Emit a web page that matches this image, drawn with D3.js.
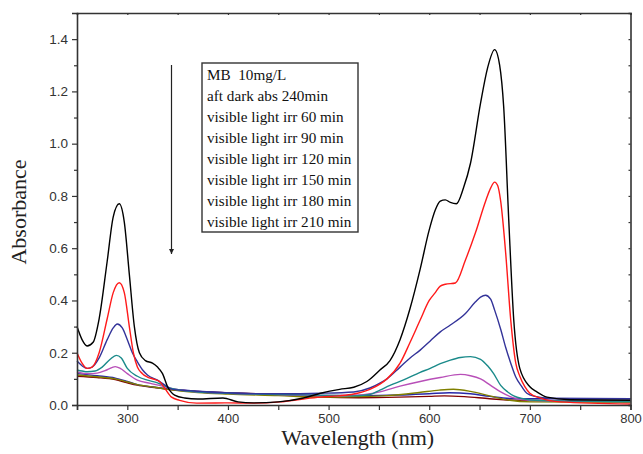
<!DOCTYPE html>
<html>
<head>
<meta charset="utf-8">
<script src="https://cdn.jsdelivr.net/npm/d3@7"></script>
<style>
  body { margin: 0; background: #fff; }
  svg { display: block; }
</style>
</head>
<body>
<div id="chart"></div>
<script>
// Spektren [Wellenlänge nm, Absorbanz]
const mb10 = [[250,0.30],[255,0.25],[260,0.226],[266,0.24],[272,0.33],[280,0.55],[286,0.72],[292,0.77],[297,0.70],[302,0.50],[307,0.30],[312,0.20],[318,0.17],[325,0.16],[330,0.145],[335,0.12],[340,0.07],[347,0.038],[357,0.027],[370,0.023],[395,0.027],[410,0.012],[425,0.008],[450,0.012],[475,0.027],[492,0.045],[511,0.06],[525,0.068],[538,0.09],[551,0.134],[561,0.17],[571,0.25],[581,0.37],[591,0.52],[600,0.67],[606,0.746],[611,0.78],[616,0.785],[621,0.775],[627,0.77],[634,0.83],[641,0.925],[651,1.155],[658,1.29],[665,1.36],[670,1.30],[674,1.14],[679,0.71],[684,0.325],[690,0.14],[700,0.07],[707,0.05],[717,0.03],[740,0.02],[800,0.018]];
const dark240 = [[250,0.20],[255,0.16],[260,0.14],[265,0.145],[272,0.20],[280,0.33],[286,0.43],[292,0.468],[297,0.43],[302,0.30],[306,0.20],[310,0.145],[315,0.12],[320,0.107],[327,0.098],[332,0.09],[337,0.065],[344,0.03],[352,0.018],[369,0.007],[400,0.008],[425,0.007],[452,0.012],[475,0.023],[492,0.03],[510,0.035],[525,0.042],[541,0.06],[551,0.08],[558,0.1],[571,0.16],[581,0.24],[591,0.325],[600,0.40],[606,0.43],[611,0.455],[616,0.462],[626,0.467],[636,0.555],[646,0.66],[656,0.78],[661,0.83],[665,0.853],[668,0.84],[671,0.78],[676,0.58],[681,0.325],[686,0.16],[690,0.11],[695,0.07],[700,0.045],[710,0.027],[730,0.012],[800,0.004]];
const irr60 = [[250,0.168],[255,0.15],[260,0.14],[265,0.145],[272,0.18],[280,0.25],[286,0.295],[290,0.31],[295,0.295],[300,0.25],[305,0.20],[310,0.165],[315,0.135],[320,0.115],[330,0.095],[337,0.077],[345,0.06],[360,0.055],[380,0.05],[409,0.045],[450,0.043],[492,0.045],[525,0.05],[541,0.065],[551,0.084],[558,0.1],[571,0.145],[581,0.18],[591,0.21],[601,0.245],[611,0.28],[621,0.306],[636,0.35],[646,0.395],[651,0.413],[656,0.42],[661,0.405],[665,0.363],[671,0.29],[676,0.22],[681,0.16],[686,0.107],[692,0.07],[697,0.045],[705,0.033],[720,0.026],[800,0.024]];
const irr90 = [[250,0.134],[255,0.13],[260,0.127],[268,0.13],[275,0.145],[283,0.175],[289,0.19],[294,0.18],[300,0.14],[310,0.11],[320,0.095],[330,0.085],[337,0.073],[345,0.062],[370,0.05],[400,0.045],[450,0.04],[500,0.037],[525,0.035],[541,0.04],[551,0.057],[561,0.075],[574,0.095],[591,0.125],[601,0.14],[611,0.158],[621,0.172],[631,0.182],[641,0.185],[651,0.175],[658,0.15],[664,0.12],[671,0.075],[678,0.05],[684,0.035],[692,0.025],[710,0.017],[800,0.013]];
const irr120 = [[250,0.127],[260,0.12],[270,0.122],[280,0.135],[288,0.147],[293,0.14],[300,0.12],[310,0.095],[323,0.083],[335,0.072],[345,0.062],[370,0.05],[400,0.045],[450,0.04],[500,0.035],[530,0.038],[551,0.05],[571,0.072],[591,0.09],[611,0.105],[631,0.117],[641,0.112],[651,0.1],[661,0.075],[671,0.05],[684,0.027],[700,0.018],[800,0.013]];
const irr150 = [[250,0.115],[270,0.108],[288,0.1],[300,0.088],[310,0.078],[327,0.068],[340,0.06],[370,0.048],[400,0.042],[450,0.036],[492,0.03],[530,0.032],[558,0.036],[590,0.048],[610,0.057],[624,0.06],[641,0.052],[660,0.035],[680,0.018],[700,0.012],[800,0.01]];
const irr180 = [[250,0.12],[270,0.112],[288,0.103],[300,0.09],[310,0.078],[327,0.068],[340,0.062],[370,0.053],[409,0.045],[450,0.04],[492,0.037],[530,0.036],[570,0.038],[600,0.043],[620,0.047],[641,0.043],[660,0.033],[680,0.025],[700,0.024],[800,0.024]];
const irr210 = [[250,0.11],[270,0.105],[288,0.097],[300,0.085],[310,0.076],[327,0.067],[340,0.06],[370,0.052],[400,0.047],[450,0.04],[492,0.03],[530,0.028],[570,0.03],[600,0.033],[615,0.035],[635,0.032],[660,0.024],[690,0.017],[800,0.015]];

const seriesNames = ["MB  10mg/L", "aft dark abs 240min", "visible light irr 60 min", "visible light irr 90 min",
  "visible light irr 120 min", "visible light irr 150 min", "visible light irr 180 min", "visible light irr 210 min"];
const seriesData = [mb10, dark240, irr60, irr90, irr120, irr150, irr180, irr210];
const seriesColors = ["#000000", "#ff1a1a", "#333399", "#1a8a8a", "#b84fb8", "#808000", "#2828a8", "#800000"];

const xTicks = [300, 400, 500, 600, 700, 800];
const yTicks = [0.0, 0.2, 0.4, 0.6, 0.8, 1.0, 1.2, 1.4];

const width = 643, height = 454;
const margin = { left: 77, right: 12.5, top: 13, bottom: 49 };

const svg = d3.select("#chart").append("svg")
  .attr("width", width)
  .attr("height", height);

const x = d3.scaleLinear().domain([250, 800]).range([margin.left, width - margin.right]);
const y = d3.scaleLinear().domain([0, 1.5]).range([height - margin.bottom, margin.top]);

// Kurven zuerst, Rahmen darüber
const plot = svg.append("g");
const line = d3.line()
  .x(d => x(d[0]))
  .y(d => y(d[1]))
  .curve(d3.curveMonotoneX);

// letzte Serie zuerst zeichnen, damit Schwarz oben liegt
seriesData.slice().reverse().forEach((s, i) => {
  const idx = seriesData.length - 1 - i;
  plot.append("path")
    .datum(s)
    .attr("fill", "none")
    .attr("stroke", seriesColors[idx])
    .attr("stroke-width", 1.4)
    .attr("d", line);
});

const axisColor = "#333";
const tickFont = "'Liberation Sans', Arial, sans-serif";

// Unterachse: Striche alle 50 nm
const xAxis = svg.append("g")
  .attr("transform", `translate(0,${y(0)})`)
  .call(d3.axisBottom(x).tickValues(d3.range(250, 801, 50)).tickSize(5)
    .tickFormat(d => xTicks.includes(d) ? d : ""));
xAxis.selectAll("text").attr("dy", "0.95em").attr("y", 6)
  .style("font-family", tickFont).style("font-size", "13px").attr("fill", axisColor);

const yAxis = svg.append("g")
  .attr("transform", `translate(${x(250)},0)`)
  .call(d3.axisLeft(y).tickValues(d3.range(0, 15).map(i => i / 10)).tickSize(5)
    .tickFormat(d => yTicks.some(t => Math.abs(t - d) < 1e-6) ? d3.format(".1f")(d) : ""));
yAxis.selectAll("text").attr("x", -9)
  .style("font-family", tickFont).style("font-size", "13.5px").attr("fill", axisColor);
yAxis.selectAll(".tick line").attr("x2", (d, i) => (i % 2 === 0 ? -5 : -3));

// obere und rechte Achse, nur kurze Striche
svg.append("g")
  .attr("transform", `translate(0,${y(1.5)})`)
  .call(d3.axisTop(x).tickValues(d3.range(250, 801, 50)).tickSize(-2).tickFormat(""));
svg.append("g")
  .attr("transform", `translate(${x(800)},0)`)
  .call(d3.axisRight(y).tickValues(d3.range(0, 15).map(i => i / 10)).tickSize(-2).tickFormat(""));

svg.selectAll(".domain").attr("stroke", axisColor).attr("stroke-width", 1.6);
svg.selectAll(".tick line").attr("stroke", axisColor).attr("stroke-width", 1.2);

// Achsentitel
const serif = "'Liberation Serif', 'Times New Roman', serif";
svg.append("text")
  .attr("x", (x(250) + x(800)) / 2 + 4)
  .attr("y", 445)
  .attr("text-anchor", "middle")
  .style("font-family", serif)
  .style("font-size", "22px")
  .attr("fill", "#222")
  .text("Wavelength (nm)");

svg.append("text")
  .attr("transform", `translate(26,${(y(0) + y(1.5)) / 2 + 3}) rotate(-90)`)
  .attr("text-anchor", "middle")
  .style("font-family", serif)
  .style("font-size", "22px")
  .attr("fill", "#222")
  .text("Absorbance");

// Pfeil (abnehmende Absorbanz)
svg.append("defs").append("marker")
  .attr("id", "arrow")
  .attr("viewBox", "0 0 10 10")
  .attr("refX", 10).attr("refY", 5)
  .attr("markerWidth", 5).attr("markerHeight", 8)
  .attr("markerUnits", "userSpaceOnUse")
  .attr("orient", "auto")
  .append("path")
  .attr("d", "M0,0 L10,5 L0,10 Z")
  .attr("fill", "#222");

svg.append("line")
  .attr("x1", 171.5).attr("y1", 65)
  .attr("x2", 171.5).attr("y2", 254)
  .attr("stroke", "#222")
  .attr("stroke-width", 1.2)
  .attr("marker-end", "url(#arrow)");

// Legende (nur Text im Kasten)
const legend = svg.append("g").attr("transform", "translate(202,63)");
legend.append("rect")
  .attr("width", 156)
  .attr("height", 169)
  .attr("fill", "#fff")
  .attr("stroke", "#333")
  .attr("stroke-width", 1.4);
legend.selectAll("text")
  .data(seriesNames)
  .enter()
  .append("text")
  .attr("x", 5)
  .attr("y", (d, i) => 16.5 + i * 21)
  .style("font-family", serif)
  .style("font-size", "15.2px")
  .attr("fill", "#111")
  .style("white-space", "pre")
  .text(d => d);
</script>
</body>
</html>
